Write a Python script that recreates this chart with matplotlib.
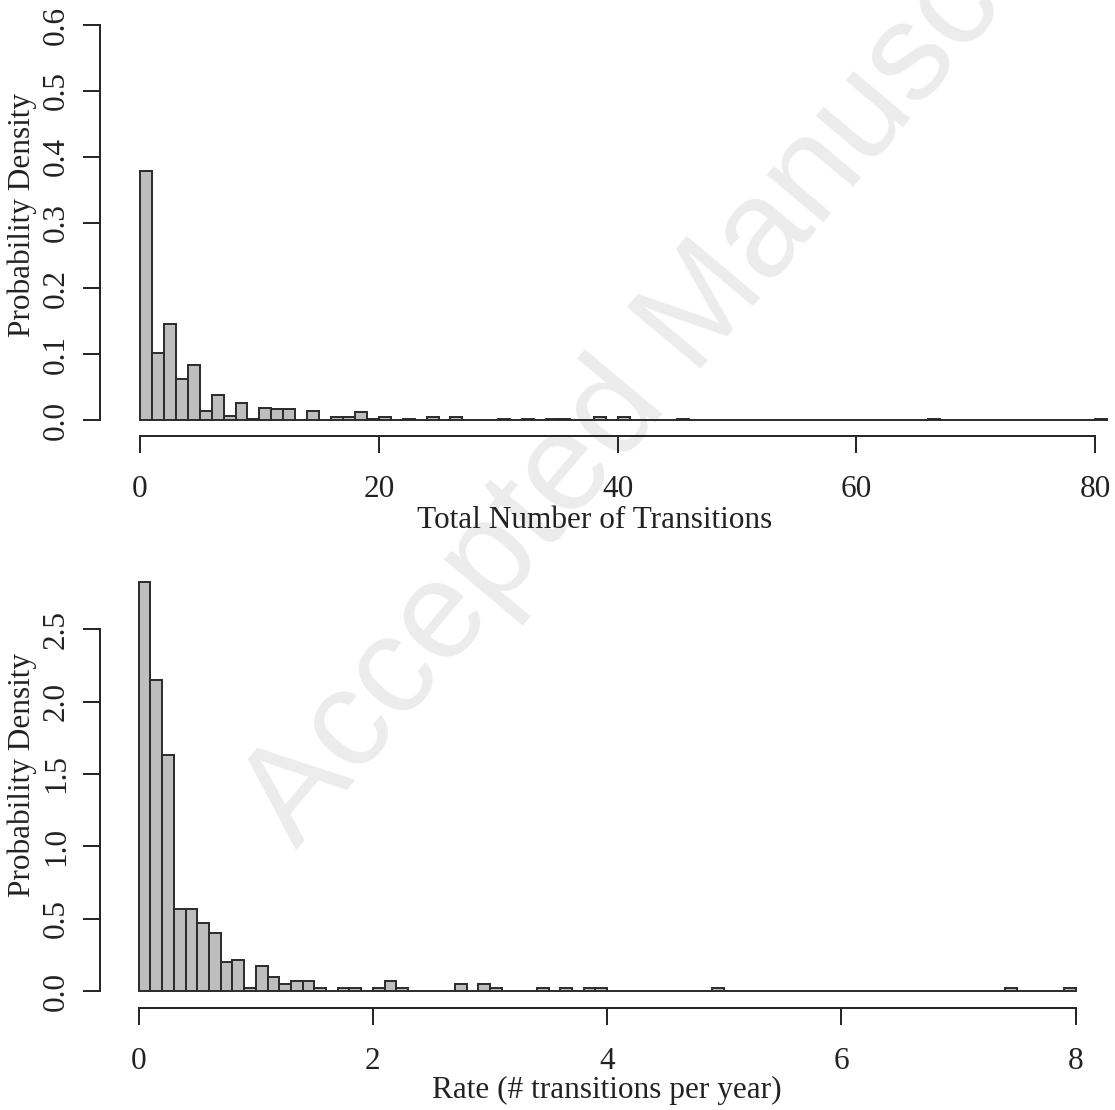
import matplotlib
matplotlib.use("Agg")
import matplotlib.pyplot as plt
import numpy as np

# ---------------- data ----------------
# Top histogram: total number of transitions, bins of width 1 from 0 to 81
top_bin_width = 1
top_density = [
    0.378, 0.102, 0.146, 0.062, 0.084, 0.014, 0.038, 0.006, 0.026, 0.002,
    0.018, 0.016, 0.016, 0.000, 0.014, 0.000, 0.004, 0.004, 0.012, 0.002,
    0.004, 0.000, 0.002, 0.000, 0.004, 0.000, 0.004, 0.000, 0.000, 0.000,
    0.002, 0.000, 0.002, 0.000, 0.002, 0.002, 0.000, 0.000, 0.004, 0.000,
    0.004, 0.000, 0.000, 0.000, 0.000, 0.002, 0.000, 0.000, 0.000, 0.000,
    0.000, 0.000, 0.000, 0.000, 0.000, 0.000, 0.000, 0.000, 0.000, 0.000,
    0.000, 0.000, 0.000, 0.000, 0.000, 0.000, 0.002, 0.000, 0.000, 0.000,
    0.000, 0.000, 0.000, 0.000, 0.000, 0.000, 0.000, 0.000, 0.000, 0.000,
    0.002,
]
top_xticks = [0, 20, 40, 60, 80]
top_yticks = [0.0, 0.1, 0.2, 0.3, 0.4, 0.5, 0.6]
top_xlabel = "Total Number of Transitions"

# Bottom histogram: rate (# transitions per year), bins of width 0.1 from 0 to 8
bot_bin_width = 0.1
bot_density = [
    2.825, 2.150, 1.630, 0.570, 0.570, 0.470, 0.400, 0.200, 0.220, 0.025,
    0.175, 0.100, 0.050, 0.075, 0.075, 0.025, 0.000, 0.025, 0.025, 0.000,
    0.025, 0.075, 0.025, 0.000, 0.000, 0.000, 0.000, 0.050, 0.000, 0.050,
    0.025, 0.000, 0.000, 0.000, 0.025, 0.000, 0.025, 0.000, 0.025, 0.025,
    0.000, 0.000, 0.000, 0.000, 0.000, 0.000, 0.000, 0.000, 0.000, 0.025,
    0.000, 0.000, 0.000, 0.000, 0.000, 0.000, 0.000, 0.000, 0.000, 0.000,
    0.000, 0.000, 0.000, 0.000, 0.000, 0.000, 0.000, 0.000, 0.000, 0.000,
    0.000, 0.000, 0.000, 0.000, 0.025, 0.000, 0.000, 0.000, 0.000, 0.025,
]
bot_xticks = [0, 2, 4, 6, 8]
bot_yticks = [0.0, 0.5, 1.0, 1.5, 2.0, 2.5]
bot_xlabel = "Rate (# transitions per year)"

ylabel = "Probability Density"
watermark = "Accepted Manuscript"

# ---------------- style ----------------
W, H = 1115, 1110
DPI = 100
plt.rcParams["font.family"] = ["Liberation Serif", "DejaVu Serif"]
FS = 22.5
BAR_FC = "#BEBEBE"
BAR_EC = "#2b2b2b"
INK = "#222222"
LW = 1.4

fig = plt.figure(figsize=(W / DPI, H / DPI), dpi=DPI)
fig.patch.set_facecolor("white")


def px_axes(x0, x1, y0, y1):
    """axes from a pixel box (y measured from the top)."""
    return fig.add_axes([x0 / W, 1 - y1 / H, (x1 - x0) / W, (y1 - y0) / H])


def style(ax, xticks, yticks, xlab, xlab_xy, ylab_y):
    ax.patch.set_alpha(0)
    for s in ("top", "right"):
        ax.spines[s].set_visible(False)
    ax.spines["left"].set_bounds(yticks[0], yticks[-1])
    ax.spines["bottom"].set_bounds(xticks[0], xticks[-1])
    for s in ("left", "bottom"):
        ax.spines[s].set_linewidth(LW)
        ax.spines[s].set_color(INK)
    ax.set_xticks(xticks)
    ax.set_xticklabels([f"{v:d}" for v in xticks])
    ax.set_yticks(yticks)
    ax.set_yticklabels([f"{v:.1f}" for v in yticks], rotation=90, va="center")
    ax.tick_params(axis="both", direction="out", length=12, width=LW,
                   color=INK, labelsize=FS, labelcolor=INK)
    ax.tick_params(axis="x", pad=16)
    ax.tick_params(axis="y", pad=9)
    ax.set_xlabel(xlab, fontsize=FS, color=INK)
    ax.set_ylabel(ylabel, fontsize=FS, color=INK)
    ax.xaxis.set_label_coords(xlab_xy[0] / W, 1 - xlab_xy[1] / H,
                              transform=fig.transFigure)
    ax.xaxis.label.set_va("center")
    ax.yaxis.set_label_coords(22 / W, 1 - ylab_y / H, transform=fig.transFigure)
    ax.yaxis.label.set_va("center")


# ---- top panel ----
ax1 = px_axes(100, 1115, 9.4, 435.8)
top_edges = np.arange(len(top_density)) * top_bin_width
ax1.bar(top_edges, top_density, width=top_bin_width, align="edge",
        color=BAR_FC, edgecolor=BAR_EC, linewidth=LW, zorder=2)
sx1 = 11.94
ax1.set_xlim(-40 / sx1, (1115 - 140) / sx1)
ax1.set_ylim(-0.024, 0.624)
style(ax1, top_xticks, top_yticks, top_xlabel, (595, 521), 215)

# ---- bottom panel ----
ax2 = px_axes(100, 1115, 569, 1007.7)
bot_edges = np.arange(len(bot_density)) * bot_bin_width
ax2.bar(bot_edges, bot_density, width=bot_bin_width, align="edge",
        color=BAR_FC, edgecolor=BAR_EC, linewidth=LW, zorder=2)
sx2 = 117.1
ax2.set_xlim(-38.7 / sx2, (1115 - 138.7) / sx2)
ax2.set_ylim(-0.112, 2.914)
style(ax2, bot_xticks, bot_yticks, bot_xlabel, (607, 1090), 775)

# ---- watermark ----
fig.text(297 / W, 1 - 850 / H, watermark, rotation=50, rotation_mode="anchor",
         ha="left", va="baseline", fontsize=100, color="#ECECEC",
         family=["Liberation Sans", "DejaVu Sans"], zorder=-5)

fig.savefig("out.png", dpi=DPI)
